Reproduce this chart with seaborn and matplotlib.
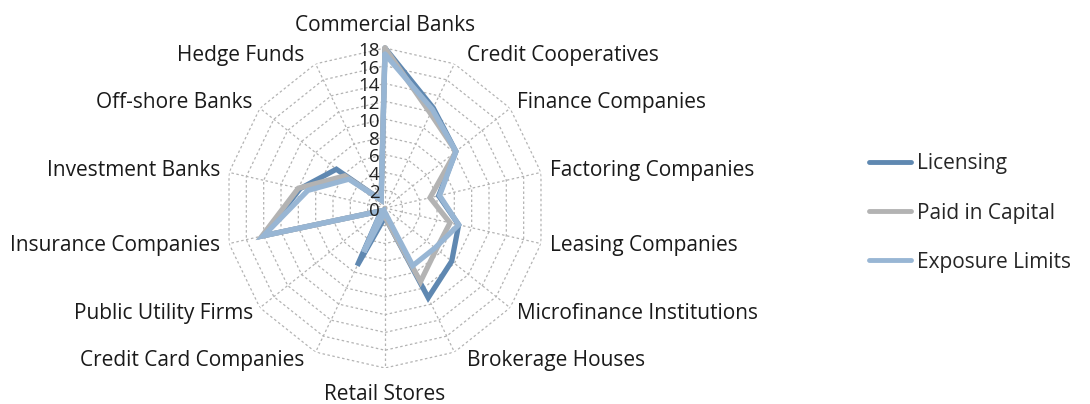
import numpy as np
import pandas as pd
import matplotlib.pyplot as plt
import seaborn as sns
from matplotlib.lines import Line2D
from matplotlib.transforms import offset_copy

categories = ["Commercial Banks", "Credit Cooperatives", "Finance Companies",
              "Factoring Companies", "Leasing Companies", "Microfinance Institutions",
              "Brokerage Houses", "Retail Stores", "Credit Card Companies",
              "Public Utility Firms", "Insurance Companies", "Investment Banks",
              "Off-shore Banks", "Hedge Funds"]
licensing = [18, 12.5, 10.2, 6.2, 8.5, 9.6, 11.2, 1, 7.2, 0.5, 14, 9.8, 7, 1]
paid_in_capital = [18, 11.8, 10.2, 5.2, 7.5, 7.4, 9.2, 1, 0.5, 0.5, 14.2, 10, 5.8, 1]
exposure_limits = [17.3, 12.3, 10.2, 6.3, 8.5, 7.2, 7.2, 0.5, 5.5, 0.5, 14, 8.9, 5.2, 1]
series_names = ["Licensing", "Paid in Capital", "Exposure Limits"]
r_ticks = list(range(0, 19, 2))

colors = ["#5f88b1", "#b3b3b3", "#98b6d4"]
grid_color = "#b3b3b3"

sns.set_theme(style="white")
plt.rcParams['font.family'] = ['Open Sans', 'DejaVu Sans']

n = len(categories)
angles = np.linspace(0, 2 * np.pi, n, endpoint=False)

# long table, each series closed back to its first point
rows = []
for name, vals in zip(series_names, [licensing, paid_in_capital, exposure_limits]):
    for i in range(n + 1):
        rows.append({"series": name, "step": i,
                     "angle": angles[i] if i < n else 2 * np.pi,
                     "value": vals[i % n]})
df = pd.DataFrame(rows)

fig = plt.figure(figsize=(10.9, 4.04), dpi=100)
ax = fig.add_axes([225 / 1090, 36 / 404, 320 / 1090, 320 / 404], projection="polar")
ax.set_theta_zero_location("N")
ax.set_theta_direction(-1)
ax.set_ylim(0, 18)
ax.grid(False)
ax.spines["polar"].set_visible(False)
ax.set_xticks([])
ax.set_yticks([])

# polygon grid and spokes
closed = np.append(angles, 2 * np.pi)
for r in r_ticks[1:]:
    ax.plot(closed, [r] * (n + 1), color=grid_color, lw=0.9, ls=(0, (2, 2)), zorder=1)
for a in angles:
    ax.plot([a, a], [0, 18], color=grid_color, lw=0.9, ls=(0, (2, 2)), zorder=1)

sns.lineplot(data=df, x="angle", y="value", hue="series", hue_order=series_names,
             palette=colors, sort=False, estimator=None, lw=3.8,
             legend=False, ax=ax, clip_on=False, zorder=3)
for line in ax.lines[-3:]:
    line.set_solid_joinstyle("miter")
ax.set_xlabel("")
ax.set_ylabel("")

# radial tick labels along the top spoke
tick_tr = offset_copy(ax.transData, fig=fig, x=-4, y=-2, units="points")
for r in r_ticks:
    ax.text(0, r, str(r), ha="right", va="center", fontsize=13.5,
            color="#222222", transform=tick_tr, zorder=4)

# category labels
for a, cat in zip(angles, categories):
    s, c = np.sin(a), np.cos(a)
    dx = 0
    if abs(s) < 0.1:
        ha = "center"
        va = "bottom" if c > 0 else "top"
        rr = 19.4 if c > 0 else 19.8
    else:
        ha = "left" if s > 0 else "right"
        va = "center"
        rr = 19.0
        if abs(c) > 0.85:
            dx = 6 if s > 0 else -5
    tr = offset_copy(ax.transData, fig=fig, x=dx, y=0, units="points")
    ax.text(a, rr, cat, ha=ha, va=va, fontsize=15, color="#1a1a1a", transform=tr)

handles = [Line2D([0], [0], color=col, lw=3.5, solid_capstyle="round") for col in colors]
fig.legend(handles, series_names, loc="center left",
           bbox_to_anchor=(869 / 1090, 1 - 213 / 404), frameon=False,
           fontsize=15, handlelength=2.0, handletextpad=0.3,
           labelspacing=1.35, borderpad=0, borderaxespad=0)

fig.savefig("out.png", dpi=100)
